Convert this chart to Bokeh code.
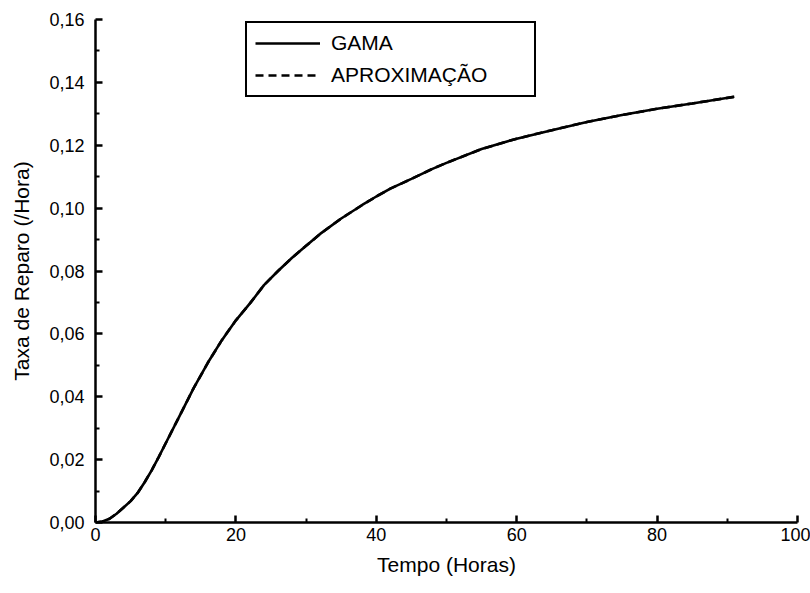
from bokeh.plotting import figure
from bokeh.models import FixedTicker, Legend, LegendItem, Range1d
from bokeh.embed import file_html
from bokeh.resources import INLINE

# Data
tempo = [0, 1, 2, 3, 4, 5, 6, 7, 8, 9, 10, 12, 14, 16, 18, 20, 22, 24, 26, 28,
         30, 32, 35, 38, 40, 42, 45, 48, 50, 55, 60, 65, 70, 75, 80, 85, 91]
gama = [0.000, 0.0003, 0.0012, 0.0028, 0.0048, 0.0068, 0.0094, 0.0128, 0.0166,
        0.0208, 0.0252, 0.0340, 0.0428, 0.0508, 0.0580, 0.0643, 0.0697, 0.0755,
        0.0800, 0.0842, 0.0880, 0.0918, 0.0967, 0.1010, 0.1037, 0.1062, 0.1093,
        0.1125, 0.1144, 0.1188, 0.1221, 0.1248, 0.1274, 0.1296, 0.1316, 0.1333,
        0.1354]
aproximacao = list(gama)  # overlaps the gamma curve in the reference

x_ticks = [0, 20, 40, 60, 80, 100]
x_minor = [10, 30, 50, 70, 90]
y_ticks = [0.00, 0.02, 0.04, 0.06, 0.08, 0.10, 0.12, 0.14, 0.16]
y_minor = [0.01, 0.03, 0.05, 0.07, 0.09, 0.11, 0.13, 0.15]
y_tick_labels = ["0,00", "0,02", "0,04", "0,06", "0,08", "0,10", "0,12", "0,14", "0,16"]

FONT = "Liberation Sans"

p = figure(frame_width=702, frame_height=503, output_backend="svg",
           toolbar_location=None, min_border_left=95, min_border_right=13,
           min_border_top=19, min_border_bottom=71,
           x_range=Range1d(0, 100), y_range=Range1d(0, 0.16))

p.grid.visible = False
p.outline_line_color = None
p.background_fill_color = "white"
p.border_fill_color = "white"

for ax in (p.xaxis[0], p.yaxis[0]):
    ax.axis_line_width = 2.5
    ax.axis_line_color = "black"
    ax.major_tick_in = 7
    ax.major_tick_out = 0
    ax.minor_tick_in = 4
    ax.minor_tick_out = 0
    ax.major_tick_line_width = 2.5
    ax.minor_tick_line_width = 2
    ax.major_label_text_font = FONT
    ax.major_label_text_font_size = "18px"
    ax.major_label_text_color = "black"
    ax.axis_label_text_font = FONT
    ax.axis_label_text_font_size = "21px"
    ax.axis_label_text_font_style = "normal"
    ax.axis_label_text_color = "black"

p.xaxis.ticker = FixedTicker(ticks=x_ticks, minor_ticks=x_minor)
p.yaxis.ticker = FixedTicker(ticks=y_ticks, minor_ticks=y_minor)
p.yaxis.major_label_overrides = {t: l for t, l in zip(y_ticks, y_tick_labels)}
p.xaxis.axis_label = "Tempo (Horas)"
p.yaxis.axis_label = "Taxa de Reparo (/Hora)"
p.xaxis.major_label_standoff = 5
p.yaxis.major_label_standoff = 11
p.xaxis.axis_label_standoff = 9
p.yaxis.axis_label_standoff = 13

r1 = p.line(tempo, gama, line_color="black", line_width=2.6)
r2 = p.line(tempo, aproximacao, line_color="black", line_width=2.6, line_dash="8 5")

legend = Legend(items=[LegendItem(label="GAMA", renderers=[r1]),
                       LegendItem(label="APROXIMAÇÃO", renderers=[r2])],
                location=(150, 425), orientation="vertical",
                border_line_color="black", border_line_width=2,
                border_line_alpha=1.0,
                background_fill_color="white", background_fill_alpha=1.0,
                label_text_font=FONT, label_text_font_size="21px",
                label_text_color="black", label_height=18, label_width=195,
                glyph_width=65, glyph_height=18, label_standoff=11, spacing=8,
                padding=8, margin=0)
p.add_layout(legend, "center")

open("out.html", "w").write(file_html(p, INLINE))
